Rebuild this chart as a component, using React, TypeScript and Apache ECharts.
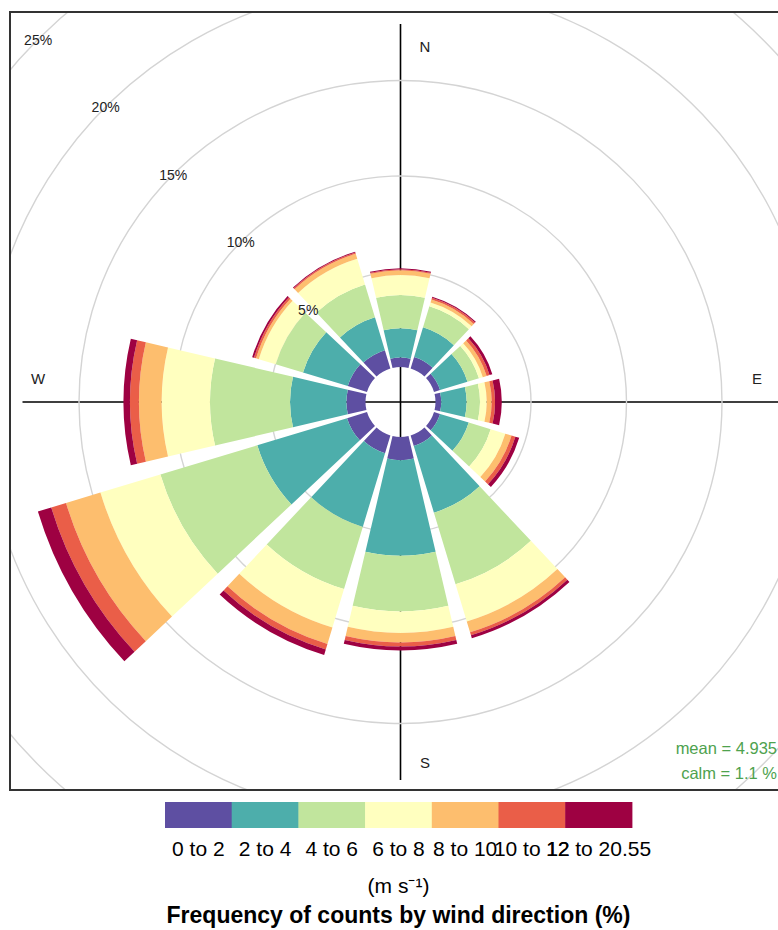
import React, { useEffect, useRef } from "react";
import * as echarts from "echarts";

// Wind directions (degrees from north), one wedge each
const directions = [0, 30, 60, 90, 120, 150, 180, 210, 240, 270, 300, 330];

// Speed bins (m s-1) and their colours
const speedBins = ["0 to 2", "2 to 4", "4 to 6", "6 to 8", "8 to 10", "10 to 12", "12 to 20.55"];
const binColors = ["#5E4FA2", "#4DAEAB", "#C1E59D", "#FFFFBF", "#FDBE6E", "#EA5E48", "#9E0142"];

// Frequency (%) of each speed bin per direction (order follows `directions`)
const freq0to2 = [0.5, 0.63, 0.33, 0.3, 0.33, 0.57, 1.21, 0.97, 1.09, 1.0, 1.05, 1.0];
const freq2to4 = [1.53, 1.62, 1.5, 1.33, 1.57, 3.65, 5.01, 4.03, 4.91, 2.95, 2.45, 1.8];
const freq4to6 = [1.74, 1.15, 0.63, 0.7, 1.2, 3.92, 2.91, 3.4, 5.3, 4.19, 1.5, 1.8];
const freq6to8 = [1.05, 0.21, 0.21, 0.35, 0.8, 2.03, 1.13, 2.1, 3.28, 2.53, 0.92, 1.4];
const freq8to10 = [0.24, 0.16, 0.21, 0.26, 0.34, 0.59, 0.49, 0.9, 1.88, 1.19, 0.15, 0.27];
const freq10to12 = [0.06, 0.1, 0.16, 0.18, 0.21, 0.17, 0.21, 0.3, 0.81, 0.47, 0.11, 0.07];
const freq12plus = [0.05, 0.06, 0.15, 0.35, 0.21, 0.16, 0.21, 0.3, 0.73, 0.34, 0.1, 0.05];

// Radial (frequency) axis ticks, in %
const radiusMin = 0;
const radiusMax = 25;
const radiusStep = 5;

const compassLabels = ["N", "E", "S", "W"];
const meanSpeed = "4.935";
const calmPercent = "1.1";

const FONT = "'Liberation Sans', Arial, Helvetica, sans-serif";

export default function App() {
  const ref = useRef<HTMLDivElement>(null);

  useEffect(() => {
    document.body.style.margin = "0";
    if (!ref.current) return;
    const chart = echarts.init(ref.current, null, { renderer: "svg" });

    const binData = [freq0to2, freq2to4, freq4to6, freq6to8, freq8to10, freq10to12, freq12plus];
    // angle axis starts at NW (135deg) so that radius labels run along NW;
    // first band is centred on 330deg (NNW), then clockwise.
    const order = directions.map((_, k) => (k + directions.length - 1) % directions.length);
    const angleCats = order.map((k) => String(directions[k]));

    const cx = 400.5;
    const cy = 402;
    const hole = 35;
    const outer = 512.5;

    const nTicks = Math.round((radiusMax - radiusMin) / radiusStep) + 1;
    const gridColors = Array.from({ length: nTicks }, (_, i) => (i === 0 ? "rgba(0,0,0,0)" : "#D4D4D4"));

    const series: any[] = speedBins.map((name, i) => ({
      type: "bar",
      name,
      coordinateSystem: "polar",
      polarIndex: 0,
      stack: "rose",
      barCategoryGap: "12%",
      silent: true,
      itemStyle: { color: binColors[i] },
      data: order.map((k) => binData[i][k]),
    }));

    const legendX0 = 165;
    const segW = 66.7;
    const legendY = 802;
    const segH = 26;

    const graphics: any[] = [
      // mask areas outside the plotting panel
      { type: "rect", z: 100, silent: true, shape: { x: 0, y: 0, width: 778, height: 11 }, style: { fill: "#fff" } },
      { type: "rect", z: 100, silent: true, shape: { x: 0, y: 0, width: 9, height: 930 }, style: { fill: "#fff" } },
      { type: "rect", z: 100, silent: true, shape: { x: 0, y: 791, width: 778, height: 139 }, style: { fill: "#fff" } },
      // panel border
      {
        type: "rect", z: 101, silent: true,
        shape: { x: 10, y: 12, width: 800, height: 778 },
        style: { fill: "none", stroke: "#333", lineWidth: 2 },
      },
      // compass labels
      ...compassLabels.map((t, i) => {
        const pos = [[425, 46], [757, 378], [425, 762], [38, 378]][i];
        return {
          type: "text", z: 102, silent: true, x: pos[0], y: pos[1],
          style: { text: t, fontSize: 15, fontFamily: FONT, fill: "#222", align: "center", verticalAlign: "middle" },
        };
      }),
      {
        type: "text", z: 102, silent: true, x: 777, y: 748,
        style: { text: `mean = ${meanSpeed}`, fontSize: 16.5, fontFamily: FONT, fill: "#4EA24E", align: "right", verticalAlign: "middle" },
      },
      {
        type: "text", z: 102, silent: true, x: 777, y: 773,
        style: { text: `calm = ${calmPercent} %`, fontSize: 16.5, fontFamily: FONT, fill: "#4EA24E", align: "right", verticalAlign: "middle" },
      },
      // colour key
      ...speedBins.map((_, i) => ({
        type: "rect", z: 102, silent: true,
        shape: { x: legendX0 + i * segW, y: legendY, width: segW + 0.5, height: segH },
        style: { fill: binColors[i] },
      })),
      ...speedBins.map((t, i) => ({
        type: "text", z: 103, silent: true,
        x: legendX0 + (i + 0.5) * segW, y: 848,
        style: { text: t, fontSize: 21, fontFamily: FONT, fill: "#000", align: "center", verticalAlign: "middle" },
      })),
      {
        type: "text", z: 103, silent: true, x: 398.5, y: 885,
        style: { text: "(m s\u207B\u00B9)", fontSize: 21, fontFamily: FONT, fill: "#000", align: "center", verticalAlign: "middle" },
      },
      {
        type: "text", z: 103, silent: true, x: 398.5, y: 915,
        style: {
          text: "Frequency of counts by wind direction (%)", fontSize: 23, fontWeight: "bold",
          fontFamily: FONT, fill: "#000", align: "center", verticalAlign: "middle",
        },
      },
    ];

    const hiddenAngle = (polarIndex: number, data: string[], startAngle: number, splitLine: any) => ({
      polarIndex,
      type: "category",
      data,
      startAngle,
      clockwise: true,
      boundaryGap: true,
      axisLine: { show: false },
      axisTick: { show: false },
      axisLabel: { show: false },
      splitLine,
    });

    chart.setOption({
      animation: false,
      backgroundColor: "#fff",
      polar: [
        { center: [cx, cy], radius: [hole, outer] },
        { center: [cx, cy], radius: [0, 378] },
        { center: [cx, cy], radius: [hole, outer] },
      ],
      angleAxis: [
        hiddenAngle(0, angleCats, 135, { show: false }),
        hiddenAngle(1, compassLabels, 90, { show: true, lineStyle: { color: "#000", width: 1.6 } }),
        hiddenAngle(2, angleCats, 135, { show: false }),
      ],
      radiusAxis: [
        {
          polarIndex: 0,
          type: "value",
          min: radiusMin,
          max: radiusMax,
          interval: radiusStep,
          axisLine: { show: false },
          axisTick: { show: false },
          axisLabel: { show: false },
          splitLine: { show: true, lineStyle: { color: gridColors, width: 1.4 } },
          z: 1,
        },
        {
          polarIndex: 1,
          type: "value",
          min: 0,
          max: 1,
          axisLine: { show: false },
          axisTick: { show: false },
          axisLabel: { show: false },
          splitLine: { show: false },
        },
        {
          // frequency labels, drawn above the wedges
          polarIndex: 2,
          type: "value",
          min: radiusMin,
          max: radiusMax,
          interval: radiusStep,
          z: 20,
          axisLine: { show: false },
          axisTick: { show: false },
          splitLine: { show: false },
          axisLabel: {
            show: true,
            margin: 0,
            align: "center",
            verticalAlign: "middle",
            fontSize: 14,
            fontFamily: FONT,
            color: "#222",
            formatter: (v: number) => (v === 0 ? "" : `${v}%`),
          },
        },
      ],
      series,
      graphic: graphics,
    });

    return () => chart.dispose();
  }, []);

  return <div ref={ref} style={{ position: "absolute", left: 0, top: 0, width: 778, height: 930 }} />;
}
